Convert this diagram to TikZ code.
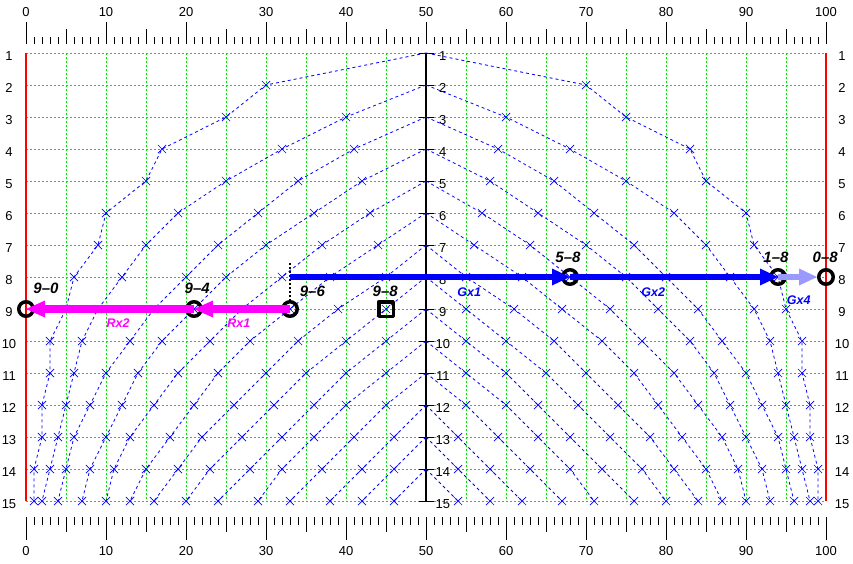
\documentclass[tikz,border=0pt]{standalone}
\usepackage{fontspec}
\setmainfont{Liberation Sans}
\usetikzlibrary{arrows.meta,shapes.misc}
\definecolor{rmag}{RGB}{255,0,255}
\definecolor{gline}{RGB}{0,230,0}
\begin{document}
\begin{tikzpicture}[x=8pt,y=-32pt,line join=round,
	grid/.style={gline,line width=1pt,dash pattern=on 2pt off 2pt},
	curve/.style={blue,line width=0.8pt,dash pattern=on 3pt off 3pt},
	xmark/.style={cross out,draw=blue,line width=0.7pt,minimum size=7.5pt,inner sep=0pt},
	ring/.style={circle,draw,line width=3.5pt,minimum size=14.5pt,inner sep=0pt},
	sqbox/.style={rectangle,draw,line width=3.5pt,minimum size=14.5pt,inner sep=0pt},
	num/.style={font=\fontsize{13}{15}\selectfont},
	tag/.style={font=\fontsize{15}{17}\selectfont\bfseries\itshape},
	gname/.style={blue,font=\fontsize{12.5}{14}\selectfont\bfseries\itshape},
	rname/.style={rmag,font=\fontsize{12.5}{14}\selectfont\bfseries\itshape},
	gmove/.style={blue,line width=6.5pt,-{Triangle[length=18pt,width=17pt,line width=0pt]}},
	rmove/.style={rmag,line width=7.5pt,-{Triangle[length=19pt,width=17pt,line width=0pt]}}]
	\useasboundingbox (-3.25,-0.65625) rectangle (103.375,16.9375);
	
	% Thuoc do tren va duoi
	\foreach \i in {0,...,100} {
		\pgfmathsetmacro\tl{mod(\i,10)==0 ? 22.5 : (mod(\i,5)==0 ? 15 : 7.5)}
		\draw[line width=0.8pt] (\i,0.728) -- ++(0pt,\tl pt);
		\draw[line width=0.8pt] (\i,15.5) -- ++(0pt,-\tl pt);
	}
	\foreach \i in {0,10,...,100} {
		\node[num] (top\i) at (\i,-0.28) {\i};
		\node[num] (bot\i) at (\i,16.5625) {\i};
	}
	
	% Luoi
	\foreach \i in {5,10,...,45,55,60,...,95}
		\draw[grid] (\i,1) -- (\i,15);
	\foreach \r in {1,...,15} {
		\draw[grid] (0,\r) -- (100,\r);
		\node[num] (lft\r) at (-2.125,\r+0.09) {\r};
		\node[num] (rgt\r) at (102,\r+0.09) {\r};
		\node[num] (mid\r) at (52.1,\r+0.09) {\r};
	}
	\draw[red,line width=2.8pt] (0,1) -- (0,15) (100,1) -- (100,15);
	\draw[line width=1.2pt] (50,1) -- (50,15);
	\foreach \r in {1,...,15}
		\draw[line width=1pt] (50,\r) +(-7.5pt,0pt) -- +(7.5pt,0pt);
	
	% Cac duong cong doi xung
	\foreach \k/\pts in {1/{30,25,17,15,10,9,6,5,3,3,2,2,1,1},
		2/{40,32,25,19,15,12,9,7,6,5,4,3,2},
		3/{41,34,29,24,20,16,13,10,8,6,5,4},
		4/{42,36,30,25,21,17,14,12,10,8,7},
		5/{43,37,32,27,23,19,16,13,11,10},
		6/{44,38,33,28,24,21,18,15,13},
		7/{45,39,34,30,26,22,19,16},
		8/{45,40,35,31,27,23,20},
		9/{45,40,36,32,28,24},
		10/{45,40,36,32,29},
		11/{45,41,37,33},
		12/{46,42,38},
		13/{46,42},
		14/{46}} {
		\draw[curve] (50,\k) \foreach \xx [count=\j] in \pts {-- (\xx,\k+\j)};
		\draw[curve] (50,\k) \foreach \xx [count=\j] in \pts {-- (100-\xx,\k+\j)};
		\foreach \xx [count=\j] in \pts {
			\node[xmark] (xl\k-\j) at (\xx,\k+\j) {};
			\node[xmark] (xr\k-\j) at (100-\xx,\k+\j) {};
		}
	}
	
	% Cac diem
	\node[ring] (p90) at (0,9) {};
	\node[ring] (p94) at (21,9) {};
	\node[ring] (p96) at (33,9) {};
	\node[sqbox] (p98) at (45,9) {};
	\node[ring] (p58) at (68,8) {};
	\node[ring] (p18) at (94,8) {};
	\node[ring] (p08) at (100,8) {};
	\coordinate (g0) at (33,8);
	\coordinate (d0) at (33,7.56);
	
	% Mui ten
	\draw[line width=2pt,dash pattern=on 2pt off 2pt] (d0) -- (p96);
	\draw[gmove] (g0) -- (p58.center);
	\draw[gmove] (p58.center) -- (p18.center);
	\draw[gmove,blue!40] (p18.center) -- (p08);
	\draw[rmove] (p96.center) -- (p94.center);
	\draw[rmove] (p94.center) -- (p90.center);
	
	% Nhan
	\node[tag] (t90) at (2.5,8.34) {9--0};
	\node[tag] (t94) at (21.4,8.34) {9--4};
	\node[tag] (t96) at (35.8,8.44) {9--6};
	\node[tag] (t98) at (44.9,8.44) {9--8};
	\node[tag] (t58) at (67.75,7.375) {5--8};
	\node[tag] (t18) at (93.75,7.375) {1--8};
	\node[tag] (t08) at (99.9,7.375) {0--8};
	\node[rname] (rx2) at (11.5,9.44) {Rx2};
	\node[rname] (rx1) at (26.6,9.44) {Rx1};
	\node[gname] (gx1) at (55.4,8.47) {Gx1};
	\node[gname] (gx2) at (78.4,8.47) {Gx2};
	\node[gname] (gx4) at (96.6,8.72) {Gx4};
\end{tikzpicture}
\end{document}
